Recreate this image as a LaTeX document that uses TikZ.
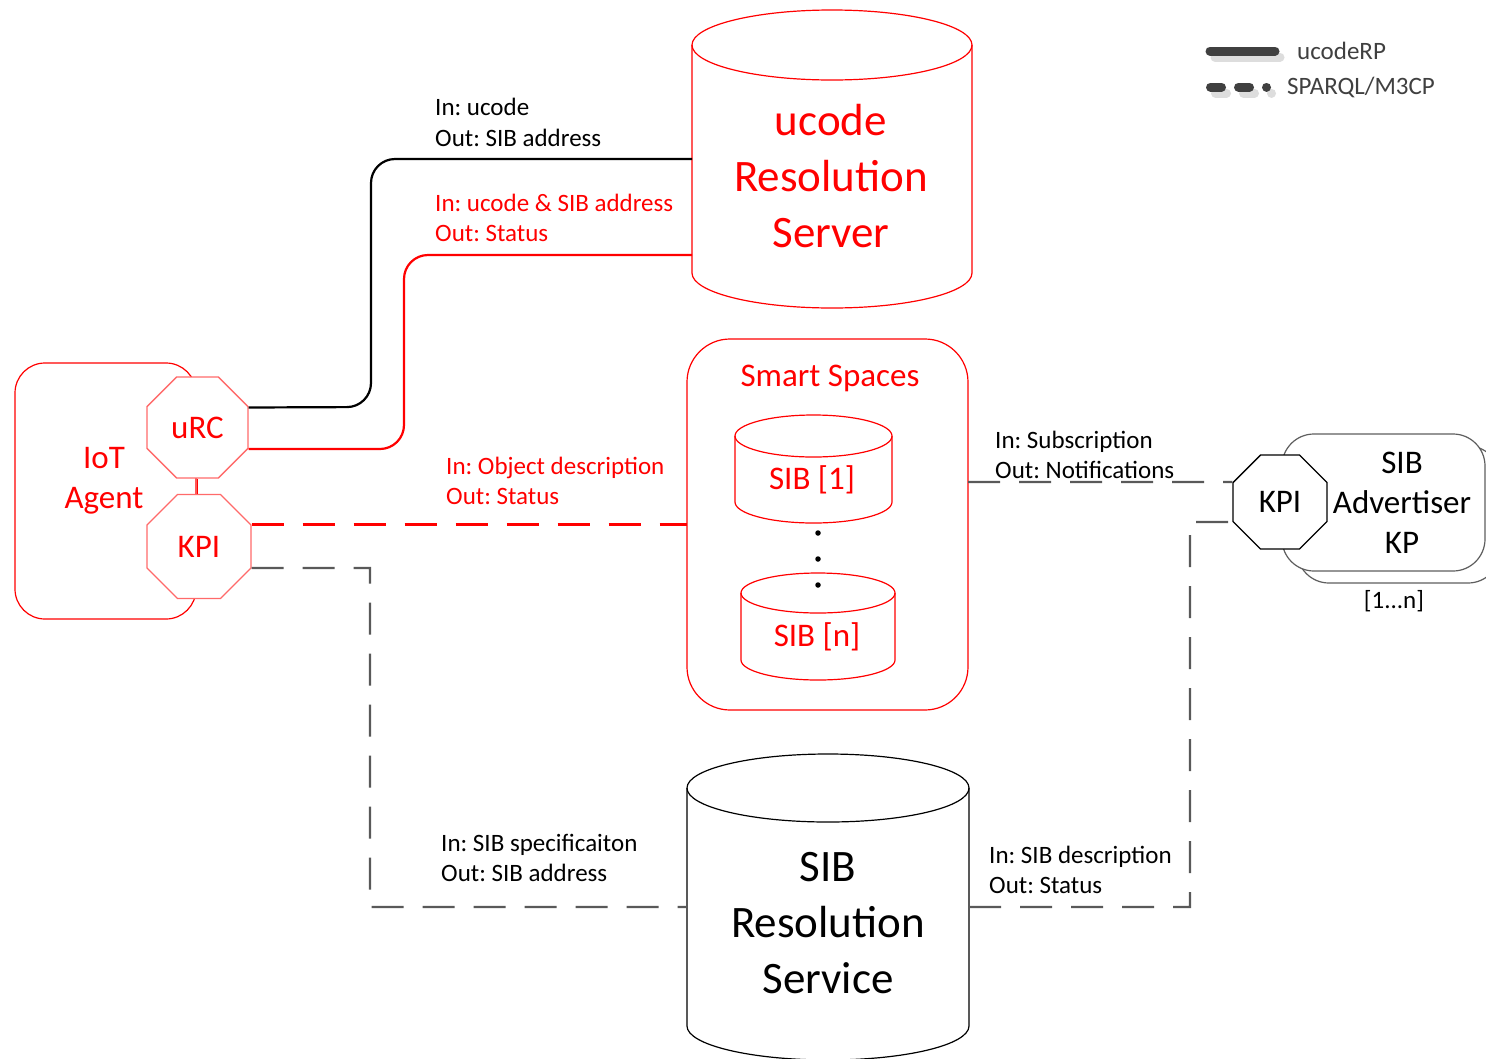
\documentclass[tikz,border=0pt]{standalone}
\usepackage{fontspec}
\setmainfont{Carlito}
\usetikzlibrary{shapes.geometric}
\frenchspacing

\definecolor{octred}{HTML}{FF6A6A}
\definecolor{wiregray}{HTML}{595959}
\definecolor{kpgray}{HTML}{5E5E5E}
\definecolor{legdark}{HTML}{404040}
\definecolor{legshadow}{HTML}{DDDDDD}

% vertical cylinder: [style]{centre x}{top ellipse y}{bottom ellipse y}{x radius}{y radius}
\newcommand\drawcyl[6][]{%
  \draw[#1] (#2-#5,#3) -- (#2-#5,#4)
    arc[start angle=180, end angle=360, x radius=#5, y radius=#6] -- (#2+#5,#3);
  \draw[#1] (#2,#3) ellipse [x radius=#5, y radius=#6];
}

\tikzset{
  lbl/.style={font=\fontsize{25}{30.5}\selectfont, align=left, anchor=west, inner sep=0pt},
  midtxt/.style={font=\fontsize{33}{40}\selectfont, align=center, inner sep=0pt},
  bigtxt/.style={font=\fontsize{45}{56}\selectfont, align=center, inner sep=0pt},
  octa/.style={regular polygon, regular polygon sides=8, inner sep=0pt, fill=white,
               line width=1.3pt, font=\fontsize{33}{40}\selectfont},
  body/.style={inner sep=0pt, outer sep=0pt},
  outline/.style={line width=1.2pt},
  wire/.style={line width=2.2pt, rounded corners=24pt},
  dashwire/.style={line width=2.4pt, dash pattern=on 32pt off 19pt},
}

\begin{document}
\begin{tikzpicture}[x=1pt, y=1pt]
\useasboundingbox (0,0) rectangle (1486,-1058);
\clip (0,0) rectangle (1486,-1058);
\fill[white] (0,0) rectangle (1486,-1058);

% ---------- legend ----------
\draw[line width=9pt, line cap=round, legshadow] (1215,-57) -- (1280,-57);
\draw[line width=9pt, line cap=round, legdark] (1210,-51) -- (1275,-51);
\draw[line width=9pt, line cap=round, legshadow, dash pattern=on 11pt off 17pt on 11pt off 17pt on 0.01pt off 100pt] (1215.5,-93) -- (1273,-93);
\draw[line width=9pt, line cap=round, legdark, dash pattern=on 11pt off 17pt on 11pt off 17pt on 0.01pt off 100pt] (1210.5,-87) -- (1268,-87);
\node[lbl, text=legdark] (legA) at (1297,-51) {ucodeRP};
\node[lbl, text=legdark] (legB) at (1287,-87) {SPARQL/M3CP};

% ---------- ucode Resolution Server ----------
\drawcyl[red, outline]{832}{-45}{-273}{140}{35}
\node[body, minimum width=280pt, minimum height=228pt] (urs) at (832,-159) {};
\node[bigtxt, text=red] (ursname) at (831,-176) {ucode\\Resolution\\Server};

% ---------- Smart Spaces ----------
\node[body, draw=red, outline, rounded corners=43pt, minimum width=281pt, minimum height=371pt] (ss) at (827.5,-524.5) {};
\node[midtxt, text=red] (sstitle) at (830,-378) {Smart Spaces};
\drawcyl[red, outline]{813.5}{-436}{-502}{78.5}{21}
\node[body, minimum width=157pt, minimum height=66pt] (sib1) at (813.5,-469) {};
\node[midtxt, text=red] (sib1name) at (812,-480) {SIB [1]};
\node[circle, fill=black, inner sep=0pt, minimum size=5.5pt] (dot1) at (818,-533) {};
\node[circle, fill=black, inner sep=0pt, minimum size=5.5pt] (dot2) at (818,-559) {};
\node[circle, fill=black, inner sep=0pt, minimum size=5.5pt] (dot3) at (818,-585) {};
\drawcyl[red, outline]{818}{-593}{-660}{77}{20}
\node[body, minimum width=154pt, minimum height=67pt] (sibn) at (818,-626.5) {};
\node[midtxt, text=red] (sibnname) at (817,-637) {SIB [n]};

% ---------- SIB Resolution Service ----------
\drawcyl[black, outline]{828}{-788}{-1026}{141}{34}
\node[body, minimum width=282pt, minimum height=238pt] (srs) at (828,-907) {};
\node[bigtxt] (srsname) at (828,-923) {SIB\\Resolution\\Service};

% ---------- IoT Agent ----------
\node[body, draw=red, outline, rounded corners=30pt, minimum width=181pt, minimum height=256pt] (iot) at (105.5,-491) {};
\node[midtxt, text=red] (iotname) at (104,-481) {IoT\\Agent};
\node[octa, draw=octred, text=red, minimum size=109.3pt] (urc) at (197.5,-427.5) {uRC};
\node[octa, draw=octred, text=red, minimum size=112.6pt] (kpi) at (199,-546.5) {KPI};
\draw[red, line width=1pt] (urc.south) -- (urc.south |- kpi.north);

% ---------- SIB Advertiser KP ----------
\node[body, draw=kpgray, fill=white, outline, rounded corners=32pt, minimum width=203pt, minimum height=137pt] (advback) at (1398.5,-514.5) {};
\node[body, draw=kpgray, fill=white, outline, rounded corners=32pt, minimum width=203pt, minimum height=137pt] (adv) at (1383.5,-502.5) {};
\node[midtxt] (advname) at (1402,-503) {SIB\\Advertiser\\KP};
\node[octa, draw=black, minimum size=101.7pt] (kpr) at (1280,-502) {KPI};
\node[lbl, anchor=center] (advrange) at (1394,-601) {[1...n]};

% ---------- ucodeRP connections ----------
\draw[wire, black] ([yshift=20pt]urc.east) -- (371,-407) -- (371,-159) -- (urs.west);
\draw[wire, red] ([yshift=-21.5pt]urc.east) -- (404,-449) -- (404,-255) -- ([yshift=-96pt]urs.west);
\node[lbl] (lab1) at (435,-122.5) {In: ucode\\Out: SIB address};
\node[lbl, text=red] (lab2) at (435,-218) {In: ucode \& SIB address\\Out: Status};

% ---------- SPARQL/M3CP connections ----------
\draw[dashwire, red] (kpi.east |- ss.west) -- (ss.west);
\node[lbl, text=red] (lab3) at (446,-481) {In: Object description\\Out: Status};

\draw[dashwire, wiregray] ([yshift=-21.5pt]kpi.east) -- (370,-568) -- (370,-907) -- (srs.west);
\node[lbl] (lab5) at (441,-858) {In: SIB specificaiton\\Out: SIB address};

\draw[dashwire, wiregray] (srs.east) -- (1190,-907) -- (1190,-522) -- ([yshift=-20pt]kpr.west);
\node[lbl] (lab6) at (989,-870) {In: SIB description\\Out: Status};

\draw[dashwire, wiregray] ([yshift=42.5pt]ss.east) -- ([yshift=20pt]kpr.west);
\node[lbl] (lab4) at (995,-455) {In: Subscription\\Out: Notifications};

\end{tikzpicture}
\end{document}
